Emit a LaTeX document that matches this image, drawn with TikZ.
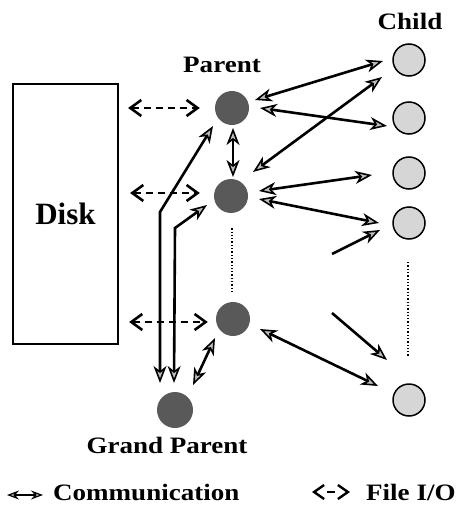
\documentclass[tikz,border=0pt]{standalone}
\usepackage{fontspec}
\setmainfont{Liberation Serif}
\usepackage{graphicx}
\usetikzlibrary{arrows.meta,calc}
\newcommand{\wlbl}[1]{\scalebox{1.15}[1]{\bfseries #1}}
\begin{document}
\begin{tikzpicture}[x=1pt,y=-1pt,
  parentnode/.style={circle,fill=black!65,minimum size=34pt,inner sep=0pt},
  childnode/.style={circle,draw=black,line width=1.5pt,fill=black!16,minimum size=32pt,inner sep=0pt},
  lbl/.style={font=\fontsize{23.5}{28}\selectfont\bfseries,inner sep=0pt,anchor=base},
  ctip/.style={},
  comm/.style={line width=2.6pt,{Stealth[length=17pt,width=13pt,inset=5pt,fill=black!25,line width=1.6pt]}-{Stealth[length=17pt,width=13pt,inset=5pt,fill=black!25,line width=1.6pt]}},
  commone/.style={line width=2.6pt,-{Stealth[length=17pt,width=13pt,inset=5pt,fill=black!25,line width=1.6pt]}},
  legcomm/.style={line width=2pt,{Stealth[length=12pt,width=9pt,inset=4pt,fill=black!25,line width=1.2pt]}-{Stealth[length=12pt,width=9pt,inset=4pt,fill=black!25,line width=1.2pt]}},
  fileio/.style={line width=2.4pt,dash pattern=on 7pt off 5pt,{Straight Barb[length=11pt,width=16pt,line width=2.6pt]}-{Straight Barb[length=11pt,width=16pt,line width=2.6pt]}},
  legbarbs/.style={line width=2.4pt,dash pattern=on 0pt off 200pt,{Straight Barb[length=10pt,width=14pt]}-{Straight Barb[length=10pt,width=14pt]}},
  dotline/.style={line width=1.8pt,dash pattern=on 1.3pt off 2pt}
]
\useasboundingbox (0,0) rectangle (461,505);

% Disk
\node[draw,line width=2.2pt,minimum width=105pt,minimum height=260pt,inner sep=0pt,
      font=\fontsize{31}{36}\selectfont\bfseries] (disk) at (65.5,214) {Disk};

% Parents
\node[parentnode] (P1) at (232,108) {};
\node[parentnode] (P2) at (231,196) {};
\node[parentnode] (P3) at (233,319) {};
\node[parentnode,minimum size=36pt] (GP) at (175,410) {};

% Children
\node[childnode] (C1) at (409,60) {};
\node[childnode] (C2) at (409,118) {};
\node[childnode] (C3) at (409,173) {};
\node[childnode] (C4) at (409,223) {};
\node[childnode] (C5) at (409,400) {};

% Labels
\node[lbl] (lparent) at (222,73) {\wlbl{Parent}};
\node[lbl] (lchild) at (410,30) {\wlbl{Child}};
\node[lbl] (lgp) at (167,453) {\wlbl{Grand Parent}};

% File I/O arrows
\draw[fileio] ($(disk.east |- P1)+(9,0)$) -- ($(P1.west)+(-15,0)$);
\draw[fileio] ($(disk.east |- P2)+(11,-3)$) -- ($(P2.west)+(-14,-3)$);
\draw[fileio] ($(disk.east |- P3)+(10,3)$) -- ($(P3.west)+(-8,3)$);

% Dotted lines
\draw[dotline] ($(P2.south)+(1,15)$) -- ($(P3.north)+(-1,-10)$);
\coordinate (cd1) at (408,262);
\coordinate (cd2) at (408,357);
\draw[dotline] (cd1) -- (cd2);

% Communication arrows
\draw[comm] ($(P1)+(23,-8)$) -- ($(C1)+(-26,1)$);
\draw[comm] ($(P1)+(28,0)$) -- ($(C2)+(-22,8)$);
\draw[comm] ($(P2)+(22,-24)$) -- ($(C1)+(-27,17)$);
\draw[comm] ($(P2)+(28,-5)$) -- ($(C3)+(-37,2)$);
\draw[comm] ($(P2)+(28,3)$) -- ($(C4)+(-30,0)$);
\draw[comm] ($(P1)+(1,20)$) -- ($(P2)+(2,-19)$);
\draw[comm] ($(P3)+(27,10)$) -- ($(C5)+(-31,-14)$);
\draw[comm] ($(P3)+(-18,19)$) -- ($(GP)+(18,-25)$);

\coordinate (s1) at (332,254);
\coordinate (s2) at (332,313);
\draw[commone] (s1) -- ($(C4)+(-29,7)$);
\draw[commone] (s2) -- ($(C5)+(-22,-40)$);

\coordinate (b1) at (160,212);
\coordinate (b2) at (175,228);
\draw[comm] ($(GP)+(-15,-27)$) -- (b1) -- ($(P1)+(-19,18)$);
\draw[comm] ($(GP)+(-1,-27)$) -- (b2) -- ($(P2)+(-24,9)$);

% Legend
\coordinate (la1) at (7,495);
\coordinate (la2) at (43,495);
\draw[legcomm] (la1) -- (la2);
\node[lbl,anchor=base west] (lcomm) at (53,500) {\wlbl{Communication}};
\coordinate (lf1) at (312,492);
\coordinate (lf2) at (350,492);
\draw[legbarbs] (lf1) -- (lf2);
\draw[line width=2.4pt] ($(lf1)!0.4!(lf2)$) -- ($(lf1)!0.6!(lf2)$);
\node[lbl,anchor=base west] (lfile) at (366,500) {\wlbl{File I/O}};
\end{tikzpicture}
\end{document}
